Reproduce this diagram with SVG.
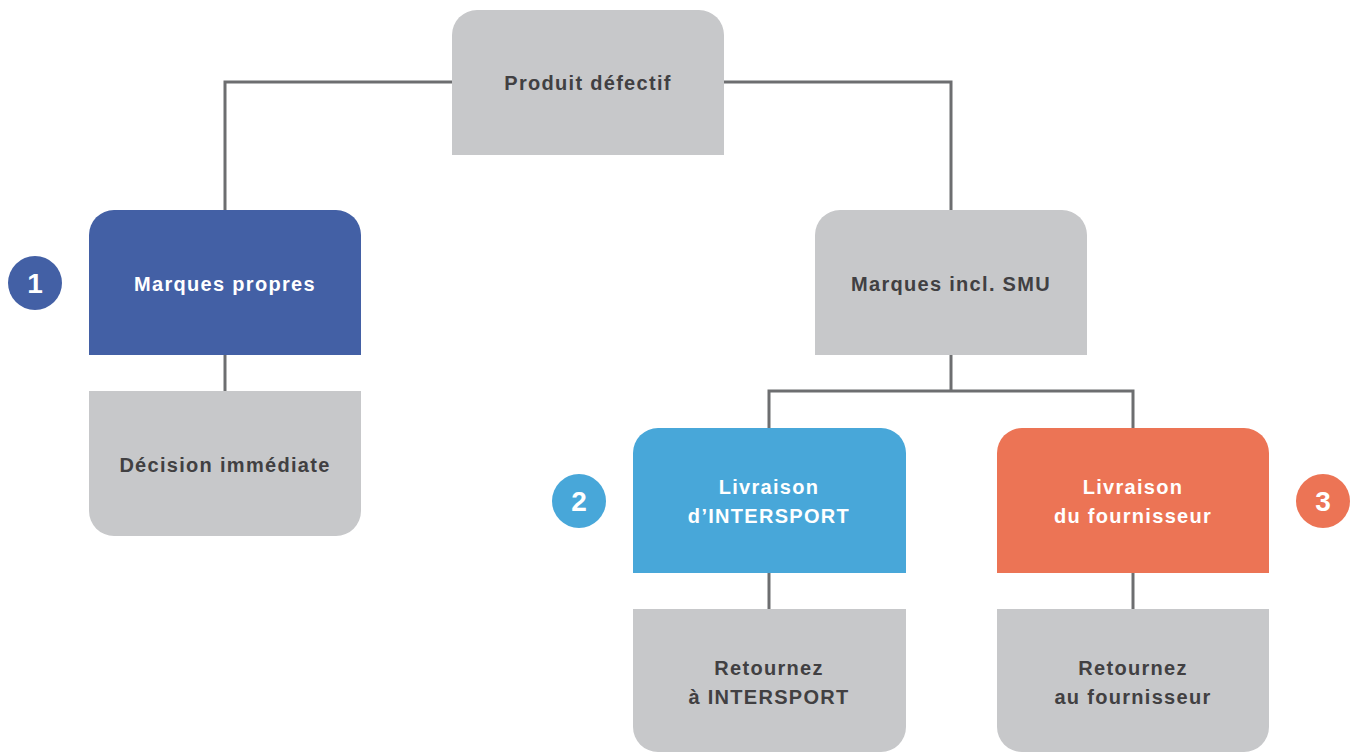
<svg xmlns="http://www.w3.org/2000/svg" width="1359" height="752" viewBox="0 0 1359 752">
<style>
.g{fill:#c7c8ca}.b{fill:#4360a5}.lb{fill:#48a7d9}.o{fill:#ec7455}
text{font-family:"Liberation Sans",Arial,sans-serif;font-weight:bold;font-size:20px;letter-spacing:1.3px;text-anchor:middle}
.d{fill:#414042}.w{fill:#ffffff}
.n{font-size:28px;letter-spacing:0}
.c{fill:none;stroke:#6d6e70;stroke-width:3}
</style>
<rect width="1359" height="752" fill="#ffffff"/>
<g id="connectors">
<polyline class="c" points="452,82 225,82 225,210"/>
<polyline class="c" points="724,82 951,82 951,210"/>
<line class="c" x1="225" y1="355" x2="225" y2="391"/>
<line class="c" x1="951" y1="355" x2="951" y2="391"/>
<polyline class="c" points="769,428 769,391 1133,391 1133,428"/>
<line class="c" x1="769" y1="573" x2="769" y2="609"/>
<line class="c" x1="1133" y1="573" x2="1133" y2="609"/>
</g>
<g id="produit">
<path class="g" d="M452,155 V35 A25,25 0 0 1 477,10 H699 A25,25 0 0 1 724,35 V155 Z"/>
<text class="d" x="588" y="90">Produit défectif</text>
</g>
<g id="marques-propres">
<path class="b" d="M89,355 V235 A25,25 0 0 1 114,210 H336 A25,25 0 0 1 361,235 V355 Z"/>
<text class="w" x="225" y="291">Marques propres</text>
</g>
<g id="decision">
<path class="g" d="M89,391 H361 V511 A25,25 0 0 1 336,536 H114 A25,25 0 0 1 89,511 Z"/>
<text class="d" x="225" y="472">Décision immédiate</text>
</g>
<g id="marques-smu">
<path class="g" d="M815,355 V235 A25,25 0 0 1 840,210 H1062 A25,25 0 0 1 1087,235 V355 Z"/>
<text class="d" x="951" y="291">Marques incl. SMU</text>
</g>
<g id="livraison-intersport">
<path class="lb" d="M633,573 V453 A25,25 0 0 1 658,428 H881 A25,25 0 0 1 906,453 V573 Z"/>
<text class="w" x="769" y="494">Livraison</text>
<text class="w" x="769" y="523">d’INTERSPORT</text>
</g>
<g id="livraison-fournisseur">
<path class="o" d="M997,573 V453 A25,25 0 0 1 1022,428 H1244 A25,25 0 0 1 1269,453 V573 Z"/>
<text class="w" x="1133" y="494">Livraison</text>
<text class="w" x="1133" y="523">du fournisseur</text>
</g>
<g id="retour-intersport">
<path class="g" d="M633,609 H906 V727 A25,25 0 0 1 881,752 H658 A25,25 0 0 1 633,727 Z"/>
<text class="d" x="769" y="675">Retournez</text>
<text class="d" x="769" y="704">à INTERSPORT</text>
</g>
<g id="retour-fournisseur">
<path class="g" d="M997,609 H1269 V727 A25,25 0 0 1 1244,752 H1022 A25,25 0 0 1 997,727 Z"/>
<text class="d" x="1133" y="675">Retournez</text>
<text class="d" x="1133" y="704">au fournisseur</text>
</g>
<g id="badge-1">
<circle class="b" cx="35" cy="283" r="27"/>
<text class="w n" x="35" y="293">1</text>
</g>
<g id="badge-2">
<circle class="lb" cx="579" cy="501" r="27"/>
<text class="w n" x="579" y="511">2</text>
</g>
<g id="badge-3">
<circle class="o" cx="1323" cy="501" r="27"/>
<text class="w n" x="1323" y="511">3</text>
</g>
</svg>
